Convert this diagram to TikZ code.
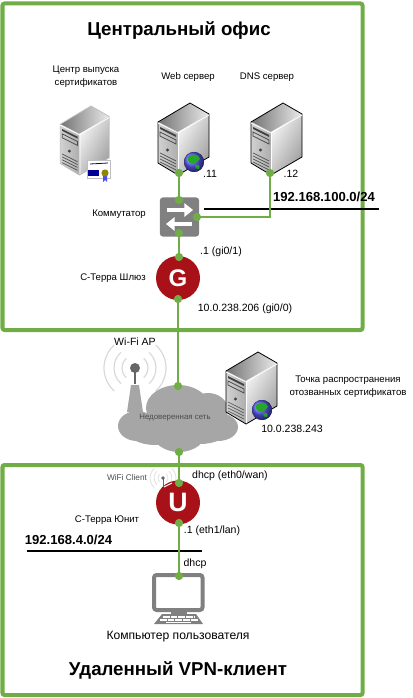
\documentclass[tikz,border=0pt]{standalone}
\usepackage{fontspec}
\setmainfont{Liberation Sans}
\usepackage{xcolor}
\usetikzlibrary{arrows.meta, positioning}
\definecolor{okgreen}{HTML}{70AD47}
\definecolor{okred}{HTML}{A81118}
\definecolor{okgray}{HTML}{808080}
\definecolor{okcloud}{HTML}{A6A6A6}
\tikzset{
  framebox/.style={draw=okgreen,line width=3pt,rounded corners=1.5pt},
  portdot/.style={circle,fill=okgreen,minimum size=6.2pt,inner sep=0pt},
  greenlink/.style={draw=okgreen,line width=1.5pt},
  netline/.style={draw=black,line width=1.1pt},
  lbl/.style={inner sep=0pt,align=center,font=\fontsize{7.2}{9.7}\selectfont},
  iplbl/.style={lbl,font=\fontsize{7.9}{9.7}\selectfont},
  lblbig/.style={lbl,font=\fontsize{9.1}{10}\selectfont},
  netlbl/.style={lbl,font=\fontsize{9.8}{11}\selectfont\bfseries},
  titlelbl/.style={lbl,font=\fontsize{14}{16}\selectfont\bfseries},
  swbox/.style={fill=okgray,rounded corners=2.5pt,minimum size=29.5pt,inner sep=0pt},
  redball/.style={circle,fill=okred,minimum size=33pt,inner sep=0pt,text=white},
  swarrow/.style={white,line width=3pt,-{Triangle[length=6.5pt,width=10pt]}},
  wavearc/.style={draw=black!15,line width=.9pt},
  pics/serverpic/.default=black,
  serverpic/.pic={
    \path[left color=black!55,right color=black!8] (0,0) -- (19,11) -- (-12,29) -- (-32,19) -- cycle;
    \path[left color=black!18,right color=black!32] (-32,19) -- (-12,29) -- (-12,72) -- (-32,60) -- cycle;
    \path[left color=black!4,right color=black!38,shading angle=60] (-12,29) -- (19,11) -- (19,54) -- (-12,72) -- cycle;
    \draw[#1,line width=.6pt,line join=round] (0,0) -- (19,11) -- (19,54) -- (-12,72) -- (-32,60) -- (-32,19) -- cycle;
    \draw[white,line width=.6pt] (-32,20) -- (-12,30) -- (19,12) (-11.5,30) -- (-11.5,71);
    \fill[black!75] (-30,24) -- (-14,32) -- (-14,34) -- (-30,26) -- cycle;
    \draw[black!70,line width=.6pt] (-30,29) -- (-14,37) -- (-14,41) -- (-30,33) -- cycle;
    \fill[black!75] (-22.5,47) circle[radius=1.6];
    \foreach \vy in {50,53,56,59}
      \draw[black!70,line width=.5pt] (-30,\vy) -- (-14,\vy+8);
  },
  globepic/.pic={
    \fill[ball color=blue!65] (0,0) circle[radius=10];
    \fill[green!60!black!85] (-6,-5) .. controls (-2,-9) and (5,-8) .. (6,-3) .. controls (2,0) and (1,3) .. (-2,2) .. controls (-5,1) and (-7,-2) .. (-6,-5) -- cycle;
    \fill[green!55!black!85] (1,3) .. controls (4,2) and (7,3) .. (5,7) .. controls (3,8) and (1,6) .. (1,3) -- cycle;
  },
}

\begin{document}
\begin{tikzpicture}[x=0.75pt,y=-0.75pt]
  \useasboundingbox (0,0) rectangle (413,698);
  \draw[framebox] (2.5,3.5) rectangle (362.5,330);
  \draw[framebox] (2.5,465) rectangle (362.5,695);

  \node[titlelbl] (tMain) at (179,30) {Центральный офис};
  \node[titlelbl] (tRemote) at (178,670) {Удаленный VPN-клиент};

  % servers
  \pic[scale=.96] (pCa) at (91,106) {serverpic={black!25}};
  \pic (pWeb) at (190,103) {serverpic};
  \pic (pDns) at (283,103) {serverpic};
  \pic (pWebGlobe) at (194,162) {globepic};

  % certificate
  \draw[draw=black!25,fill=white] (87,160) rectangle (110,178);
  \draw[blue!50!black,line width=.6pt] (90,164) -- (108,163);
  \fill[blue!60!black] (88,170) rectangle (99,176);
  \fill[blue!70] (103,175) -- (103,182) -- (105,180) -- (107,182) -- (107,175) -- cycle;
  \fill[olive] (105,173) circle[radius=3.6];

  % wifi ap
  \foreach \arcr in {13,21,31} {
    \draw[wavearc] (135,368) ++(-48:\arcr) arc[start angle=-48,end angle=48,radius=\arcr];
    \draw[wavearc] (135,368) ++(132:\arcr) arc[start angle=132,end angle=228,radius=\arcr];
  }
  \fill[okcloud] (131,385) -- (139,385) -- (143,412) -- (127,412) -- cycle;
  \draw[black!60,line width=1.8pt] (135,368) -- (135,384);
  \fill[black!60] (135,368) circle[radius=5];

  % cloud
  \foreach \cx/\cy/\rx/\ry in {137/426/19/15, 178/408/32/23, 208/410/20/17, 218/427/20/14, 179/432/27/20, 155/430/28/15, 200/430/28/14}
    \fill[okcloud] (\cx,\cy) ellipse[x radius=\rx,y radius=\ry];
  \node[lbl,font=\fontsize{5.9}{7}\selectfont,text=black!70] (tCloud) at (175,418) {Недоверенная сеть};

  \pic (pCrl) at (258,352) {serverpic};
  \pic (pCrlGlobe) at (262,410) {globepic};

  % switch
  \node[swbox] (nSwitch) at (179.5,217) {};
  \draw[swarrow] (167,210) -- (193,210);
  \draw[swarrow] (192,224) -- (166,224);

  % wifi client
  \foreach \arcr in {5,9,13} {
    \draw[black!12,line width=.6pt] (163,478) ++(-48:\arcr) arc[start angle=-48,end angle=48,radius=\arcr];
    \draw[black!12,line width=.6pt] (163,478) ++(132:\arcr) arc[start angle=132,end angle=228,radius=\arcr];
  }
  \draw[black!60,line width=.7pt] (163,478) -- (163,486);
  \fill[black!60] (163,478) circle[radius=1.8];

  % gateways
  \node[redball,font=\fontsize{18}{18}\selectfont\bfseries] (nGate) at (178,278) {G};
  \node[redball,font=\fontsize{20}{20}\selectfont\bfseries] (nUnit) at (178,502.5) {U};
  \draw[white,line width=.8pt] (164,487) -- (172,483);

  % pc
  \draw[draw=okgray,fill=white,line width=3pt,rounded corners=2pt] (154,575) rectangle (202.5,610);
  \fill[okgray] (171,611) rectangle (187,616);
  \fill[okgray] (162,614) -- (196,614) -- (203,624) -- (154,624) -- cycle;
  \foreach \ky/\kl/\kr in {617/163/195, 620/160/198}
    \draw[white,line width=.8pt,dash pattern=on 5pt off .8pt] (\kl,\ky) -- (\kr,\ky);
  \draw[white,line width=.8pt] (166,622.7) -- (191,622.7);

  % networks
  \coordinate (nNetA) at (204,209);
  \coordinate (nNetB) at (379,209);
  \coordinate (nLanA) at (27,551);
  \coordinate (nLanB) at (202,551);
  \draw[netline] (nNetA) -- (nNetB);
  \draw[netline] (nLanA) -- (nLanB);
  \node[netlbl] (tNet) at (324,197) {192.168.100.0/24};
  \node[netlbl] (tLan) at (68.5,540) {192.168.4.0/24};

  % ports
  \node[portdot] (nWebP) at (179,173) {};
  \node[portdot] (nDnsP) at (270,173) {};
  \node[portdot] (nSwT) at (179,200) {};
  \node[portdot] (nSwR) at (197,217) {};
  \node[portdot] (nSwB) at (179,233) {};
  \node[portdot] (nGateT) at (179,257) {};
  \node[portdot] (nGateB) at (178,299) {};
  \node[portdot] (nCloudT) at (178,386) {};
  \node[portdot] (nCloudB) at (179,452) {};
  \node[portdot] (nUnitT) at (179,483) {};
  \node[portdot] (nUnitB) at (179,523) {};
  \node[portdot] (nPc) at (179,576) {};
  \coordinate (nBend) at (270,217);

  \draw[greenlink] (nWebP) -- (nSwT);
  \draw[greenlink] (nDnsP) -- (nBend) -- (nSwR);
  \draw[greenlink] (nSwB) -- (nGateT);
  \draw[greenlink] (nGateB) -- (nCloudT);
  \draw[greenlink] (nCloudB) -- (nUnitT);
  \draw[greenlink] (nUnitB) -- (nPc);

  % labels
  \node[lbl] (tCa) at (86,76.5) {Центр выпуска\\сертификатов};
  \node[lbl] (tWeb) at (188,77) {Web сервер};
  \node[lbl] (tDns) at (267,77) {DNS сервер};
  \node[iplbl] (tWebIp) at (210,174) {.11};
  \node[iplbl] (tDnsIp) at (291,174) {.12};
  \node[lbl] (tSwitch) at (119,214) {Коммутатор};
  \node[iplbl] (tGateIn) at (221,252) {.1 (gi0/1)};
  \node[lbl] (tGate) at (113,278) {С-Терра Шлюз};
  \node[iplbl] (tGateOut) at (245,309) {10.0.238.206 (gi0/0)};
  \node[iplbl] (tAp) at (135,342) {Wi-Fi AP};
  \node[lbl] (tCrl) at (348,386.5) {Точка распространения\\отозванных сертификатов};
  \node[iplbl] (tCrlIp) at (292,429) {10.0.238.243};
  \node[lbl,font=\fontsize{6.2}{7}\selectfont,text=black!70] (tClient) at (127,478) {WiFi Client};
  \node[iplbl] (tUnitOut) at (230,476) {dhcp (eth0/wan)};
  \node[lbl] (tUnit) at (107,520) {С-Терра Юнит};
  \node[iplbl] (tUnitIn) at (212,531) {.1 (eth1/lan)};
  \node[iplbl] (tDhcp) at (195,564) {dhcp};
  \node[lblbig] (tPc) at (178,637) {Компьютер пользователя};
\end{tikzpicture}
\end{document}
